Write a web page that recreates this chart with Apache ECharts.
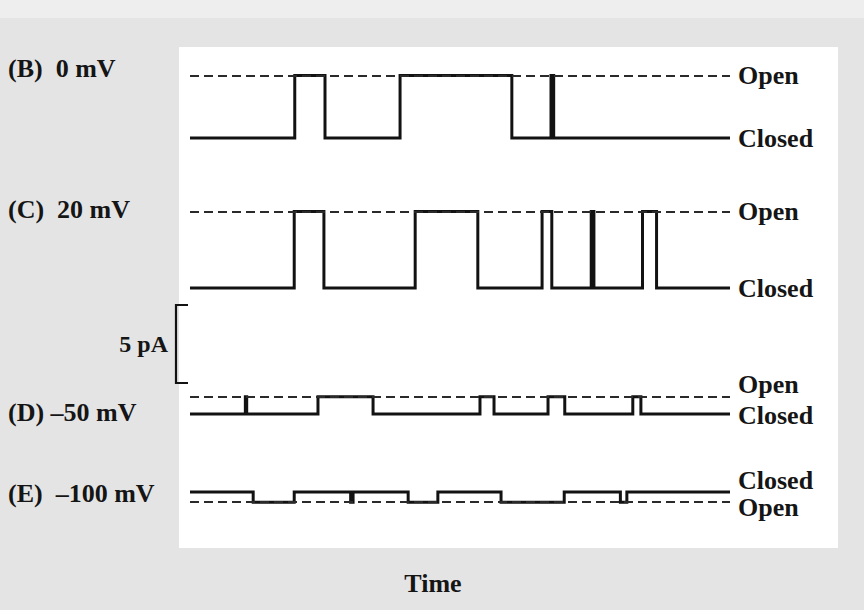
<!DOCTYPE html>
<html>
<head>
<meta charset="utf-8">
<script src="https://cdn.jsdelivr.net/npm/echarts@6/dist/echarts.min.js"></script>
<style>
html,body{margin:0;padding:0;background:#e4e4e4;}
#chart{width:864px;height:610px;}
</style>
</head>
<body>
<div id="chart"></div>
<script>
// ---- data (time in arbitrary units 0..100, current in pA) ----
const traceLabels = ['(B)  0 mV', '(C)  20 mV', '(D) \u201350 mV', '(E)  \u2013100 mV'];
const openCurrentPA = [4.0, 4.9, 1.1, -0.65];   // open level of each trace (closed = 0)
const closedCurrentPA = [0, 0, 0, 0];
// alternating transition times: closed->open, open->closed, ...
const transitionsB = [19.4, 25.0, 38.9, 59.6, 66.85, 67.35];
const transitionsC = [19.3, 24.8, 41.7, 53.3, 65.2, 67.0, 74.3, 74.8, 83.8, 86.4];
const transitionsD = [10.25, 10.5, 23.7, 33.9, 53.7, 56.3, 66.3, 69.4, 82.0, 83.5];
const transitionsE = [11.7, 19.3, 29.75, 30.2, 40.4, 45.9, 57.6, 69.3, 79.7, 80.9];
const timeRange = [0, 100];
const scaleBarPA = 5;
const scaleBarText = '5 pA';
const xAxisTitle = 'Time';
const openText = 'Open';
const closedText = 'Closed';

// ---- layout ----
const PX = 15.6;                 // pixels per pA
const closedY = [138, 288, 414, 492];
const scaleBarBottomY = 383;
const yMin = -2, yMax = 6;
const FONT = '"Liberation Serif", "Times New Roman", serif';

const allTransitions = [transitionsB, transitionsC, transitionsD, transitionsE];

function buildSteps(trans, openV, closedV) {
  const pts = [[timeRange[0], closedV]];
  let isOpen = false;
  trans.forEach(t => { isOpen = !isOpen; pts.push([t, isOpen ? openV : closedV]); });
  pts.push([timeRange[1], isOpen ? openV : closedV]);
  return pts;
}

const grids = [], xAxes = [], yAxes = [], series = [];
closedY.forEach((cy, i) => {
  grids.push({ left: 190, width: 540, top: cy - yMax * PX, height: (yMax - yMin) * PX, containLabel: false });
  xAxes.push({ type: 'value', gridIndex: i, min: timeRange[0], max: timeRange[1], show: false });
  yAxes.push({ type: 'value', gridIndex: i, min: yMin, max: yMax, show: false });
  series.push({
    type: 'line', xAxisIndex: i, yAxisIndex: i, step: 'end', symbol: 'none',
    data: buildSteps(allTransitions[i], openCurrentPA[i], closedCurrentPA[i]),
    lineStyle: { color: '#121212', width: 3, join: 'miter', cap: 'butt' },
    z: 3,
    markLine: {
      silent: true, symbol: 'none', animation: false,
      label: { show: false },
      lineStyle: { color: '#2a2a2a', width: 2, type: [9, 5] },
      data: [{ yAxis: openCurrentPA[i] }]
    }
  });
});
// scale bar grid
grids.push({ left: 176, width: 12, top: scaleBarBottomY - yMax * PX, height: (yMax - yMin) * PX });
xAxes.push({ type: 'value', gridIndex: 4, min: 0, max: 1, show: false });
yAxes.push({ type: 'value', gridIndex: 4, min: yMin, max: yMax, show: false });
series.push({
  type: 'line', xAxisIndex: 4, yAxisIndex: 4, symbol: 'none',
  data: [[1, 0], [0, 0], [0, scaleBarPA], [1, scaleBarPA]],
  lineStyle: { color: '#121212', width: 2.2, join: 'miter' }
});

const chart = echarts.init(document.getElementById('chart'), null, { renderer: 'svg' });
chart.setOption({
  animation: false,
  backgroundColor: '#e4e4e4',
  grid: grids, xAxis: xAxes, yAxis: yAxes, series: series
});

// ---- text & decoration ----
const g = [
  { type: 'rect', shape: { x: 0, y: 0, width: 864, height: 18 }, style: { fill: '#eeeeee' }, z: -2, silent: true },
  { type: 'rect', shape: { x: 179, y: 47, width: 659, height: 501 }, style: { fill: '#ffffff' }, z: -1, silent: true }
];
function txt(text, x, y, size, align, bold) {
  g.push({ type: 'text', x: x, y: y, z: 10, silent: true,
    style: { text: text, fill: '#151515', font: (bold ? 'bold ' : '') + size + 'px ' + FONT,
             align: align, verticalAlign: 'middle' } });
}
const labelY = [68, 209, 412, 493];
traceLabels.forEach((t, i) => txt(t, 8, labelY[i], 26, 'left', true));

const labelX = 738;
closedY.forEach((cy, i) => {
  const pOpen = chart.convertToPixel({ gridIndex: i }, [timeRange[1], openCurrentPA[i]]);
  const pClosed = chart.convertToPixel({ gridIndex: i }, [timeRange[1], closedCurrentPA[i]]);
  let oy = pOpen[1], cyy = pClosed[1];
  if (Math.abs(oy - cyy) < 40) {   // separate labels of the flat traces
    if (oy < cyy) { oy -= 12; cyy += 1; } else { oy += 5; cyy -= 12; }
  }
  txt(openText, labelX, oy, 26, 'left', true);
  txt(closedText, labelX, cyy, 26, 'left', true);
});
const sb = chart.convertToPixel({ gridIndex: 4 }, [0, scaleBarPA / 2]);
txt(scaleBarText, 168, sb[1], 24, 'right', true);
txt(xAxisTitle, 433, 583, 26, 'center', true);

chart.setOption({ graphic: g });
</script>
</body>
</html>
